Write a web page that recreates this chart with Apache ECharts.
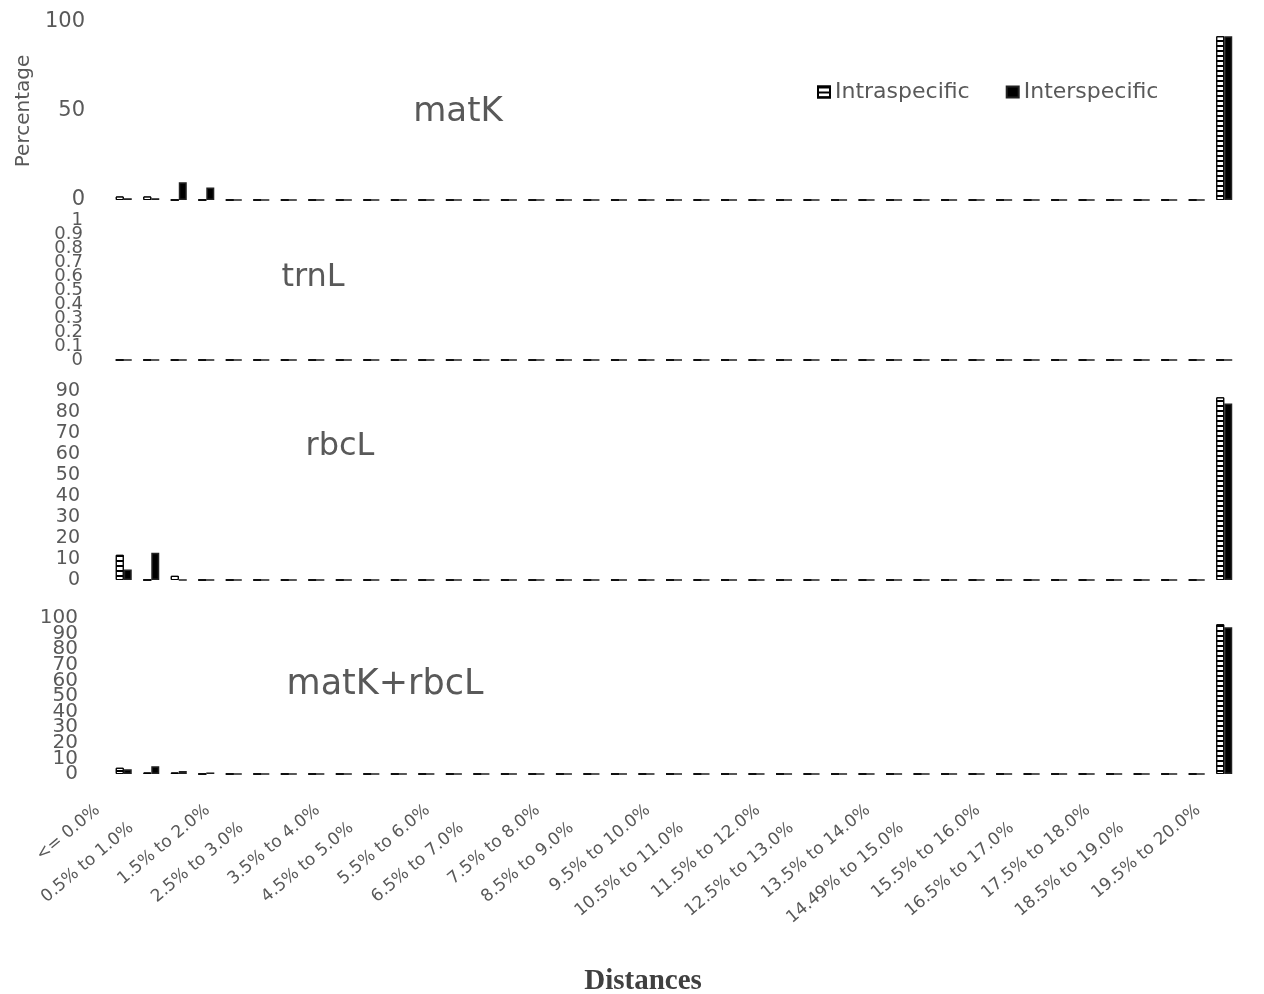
<!DOCTYPE html>
<html>
<head>
<meta charset="utf-8">
<script src="https://cdn.jsdelivr.net/npm/echarts@6/dist/echarts.min.js"></script>
<style>
  html, body { margin: 0; padding: 0; background: #fff; }
  #chart { width: 1264px; height: 994px; }
</style>
</head>
<body>
<div id="chart"></div>
<script>
// distance classes (x axis)
var categories = [
  '<= 0.0%', '0.0% to 0.5%', '0.5% to 1.0%', '1.0% to 1.5%', '1.5% to 2.0%',
  '2.0% to 2.5%', '2.5% to 3.0%', '3.0% to 3.5%', '3.5% to 4.0%', '4.0% to 4.5%',
  '4.5% to 5.0%', '5.0% to 5.5%', '5.5% to 6.0%', '6.0% to 6.5%', '6.5% to 7.0%',
  '7.0% to 7.5%', '7.5% to 8.0%', '8.0% to 8.5%', '8.5% to 9.0%', '9.0% to 9.5%',
  '9.5% to 10.0%', '10.0% to 10.5%', '10.5% to 11.0%', '11.0% to 11.5%', '11.5% to 12.0%',
  '12.0% to 12.5%', '12.5% to 13.0%', '13.0% to 13.5%', '13.5% to 14.0%', '14.0% to 14.49%',
  '14.49% to 15.0%', '15.0% to 15.5%', '15.5% to 16.0%', '16.0% to 16.5%', '16.5% to 17.0%',
  '17.0% to 17.5%', '17.5% to 18.0%', '18.0% to 18.5%', '18.5% to 19.0%', '19.0% to 19.5%',
  '19.5% to 20.0%'
];

var matKIntra = [
  2, 2, 0, 0, 0, 0, 0, 0, 0, 0,
  0, 0, 0, 0, 0, 0, 0, 0, 0, 0,
  0, 0, 0, 0, 0, 0, 0, 0, 0, 0,
  0, 0, 0, 0, 0, 0, 0, 0, 0, 0,
  92
];
var matKInter = [
  1, 1, 10, 7, 0, 0, 0, 0, 0, 0,
  0, 0, 0, 0, 0, 0, 0, 0, 0, 0,
  0, 0, 0, 0, 0, 0, 0, 0, 0, 0,
  0, 0, 0, 0, 0, 0, 0, 0, 0, 0,
  92
];
var trnLIntra = [
  0, 0, 0, 0, 0, 0, 0, 0, 0, 0,
  0, 0, 0, 0, 0, 0, 0, 0, 0, 0,
  0, 0, 0, 0, 0, 0, 0, 0, 0, 0,
  0, 0, 0, 0, 0, 0, 0, 0, 0, 0,
  0
];
var trnLInter = [
  0, 0, 0, 0, 0, 0, 0, 0, 0, 0,
  0, 0, 0, 0, 0, 0, 0, 0, 0, 0,
  0, 0, 0, 0, 0, 0, 0, 0, 0, 0,
  0, 0, 0, 0, 0, 0, 0, 0, 0, 0,
  0
];
var rbcLIntra = [
  12, 0, 2, 0, 0, 0, 0, 0, 0, 0,
  0, 0, 0, 0, 0, 0, 0, 0, 0, 0,
  0, 0, 0, 0, 0, 0, 0, 0, 0, 0,
  0, 0, 0, 0, 0, 0, 0, 0, 0, 0,
  87
];
var rbcLInter = [
  5, 13, 0, 0, 0, 0, 0, 0, 0, 0,
  0, 0, 0, 0, 0, 0, 0, 0, 0, 0,
  0, 0, 0, 0, 0, 0, 0, 0, 0, 0,
  0, 0, 0, 0, 0, 0, 0, 0, 0, 0,
  84
];
var comboIntra = [
  4, 1, 1, 0, 0, 0, 0, 0, 0, 0,
  0, 0, 0, 0, 0, 0, 0, 0, 0, 0,
  0, 0, 0, 0, 0, 0, 0, 0, 0, 0,
  0, 0, 0, 0, 0, 0, 0, 0, 0, 0,
  96
];
var comboInter = [
  3, 5, 2, 1, 0, 0, 0, 0, 0, 0,
  0, 0, 0, 0, 0, 0, 0, 0, 0, 0,
  0, 0, 0, 0, 0, 0, 0, 0, 0, 0,
  0, 0, 0, 0, 0, 0, 0, 0, 0, 0,
  94
];

var panelNames = ['matK', 'trnL', 'rbcL', 'matK+rbcL'];
var panelMax = [100, 1, 90, 100];
var panelStep = [50, 0.1, 10, 10];

var grey = '#595959';
var font = 'DejaVu Sans';

var grids = [
  { left: 110, width: 1128, top: 22, height: 178 },
  { left: 110, width: 1128, top: 220, height: 140 },
  { left: 110, width: 1128, top: 391, height: 189 },
  { left: 110, width: 1128, top: 618, height: 156 }
];
var labelSize = [21, 18, 19, 20];
var labelMargin = [25, 27, 30, 32];

var intraStyle = {
  color: '#fff',
  borderColor: '#000',
  borderWidth: 1,
  decal: {
    symbol: 'rect',
    color: '#000',
    dashArrayX: [1, 0],
    dashArrayY: [2, 3],
    rotation: 0
  }
};
var interStyle = { color: '#000', borderColor: '#222', borderWidth: 1.5 };

var chart = echarts.init(document.getElementById('chart'));

var xAxes = [], yAxes = [], series = [];
var seriesData = [
  [matKIntra, matKInter],
  [trnLIntra, trnLInter],
  [rbcLIntra, rbcLInter],
  [comboIntra, comboInter]
];

function yAxisFor(i, parity) {
  // parity: null shows all labels, 0/1 shows every other tick label
  return {
    type: 'value',
    gridIndex: i,
    position: 'left',
    min: 0,
    max: panelMax[i],
    interval: panelStep[i],
    splitLine: { show: false },
    axisLine: { show: false },
    axisTick: { show: false },
    axisLabel: {
      showMinLabel: true,
      showMaxLabel: true,
      fontFamily: font,
      fontSize: labelSize[i],
      color: grey,
      margin: labelMargin[i],
      formatter: function (v) {
        if (parity === null) return String(v);
        return Math.round(v / panelStep[i]) % 2 === parity ? String(v) : '';
      }
    },
    name: i === 0 && parity === null ? 'Percentage' : '',
    nameLocation: 'middle',
    nameGap: 68,
    nameTextStyle: { fontFamily: font, fontSize: 20, color: grey }
  };
}

grids.forEach(function (g, i) {
  g.containLabel = false;
  g.outerBoundsMode = 'none';
  var last = i === grids.length - 1;
  xAxes.push({
    type: 'category',
    gridIndex: i,
    data: categories,
    axisLine: { show: false },
    axisTick: { show: false },
    axisLabel: last ? {
      show: true,
      interval: 1,
      rotate: 40,
      margin: 12,
      fontFamily: font,
      fontSize: 17,
      color: grey,
      formatter: function (v, idx) {
        return '{t|' + v + '}' + ((idx / 2) % 2 === 0 ? '{s| }' : '{w| }');
      },
      rich: {
        t: { fontFamily: font, fontSize: 17, color: grey },
        s: { fontFamily: font, fontSize: 17, width: 34 },
        w: { fontFamily: font, fontSize: 17, width: 62 }
      }
    } : { show: false }
  });

  var yIndex = yAxes.length;
  if (i === 1 || i === 3) {
    // crowded scales: split labels over two stacked axes so none get dropped
    yAxes.push(yAxisFor(i, 0));
    yAxes.push(yAxisFor(i, 1));
  } else {
    yAxes.push(yAxisFor(i, null));
  }

  series.push({
    name: 'Intraspecific',
    type: 'bar',
    xAxisIndex: i,
    yAxisIndex: yIndex,
    barWidth: 8,
    barGap: '0%',
    itemStyle: intraStyle,
    data: seriesData[i][0]
  });
  series.push({
    name: 'Interspecific',
    type: 'bar',
    xAxisIndex: i,
    yAxisIndex: yIndex,
    barWidth: 8,
    barGap: '0%',
    itemStyle: interStyle,
    data: seriesData[i][1]
  });
});

var titlePos = [[458, 112, 34], [313, 278, 32], [340, 447, 32], [385, 685, 35]];

var texts = panelNames.map(function (n, i) {
  return {
    type: 'text',
    x: titlePos[i][0],
    y: titlePos[i][1],
    style: {
      text: n,
      fontFamily: font,
      fontSize: titlePos[i][2],
      fill: grey,
      textAlign: 'center',
      textVerticalAlign: 'middle'
    }
  };
});
texts.push({
  type: 'text',
  x: 643,
  y: 982,
  style: {
    text: 'Distances',
    fontFamily: 'Liberation Serif',
    fontWeight: 'bold',
    fontSize: 29,
    fill: '#404040',
    textAlign: 'center',
    textVerticalAlign: 'middle'
  }
});

chart.setOption({
  animation: false,
  backgroundColor: '#fff',
  grid: grids,
  xAxis: xAxes,
  yAxis: yAxes,
  legend: {
    data: ['Intraspecific', 'Interspecific'],
    left: 812,
    top: 76,
    itemWidth: 12,
    itemHeight: 11,
    itemGap: 36,
    icon: 'rect',
    textStyle: { fontFamily: font, fontSize: 22, color: grey }
  },
  graphic: texts,
  series: series
});
</script>
</body>
</html>
